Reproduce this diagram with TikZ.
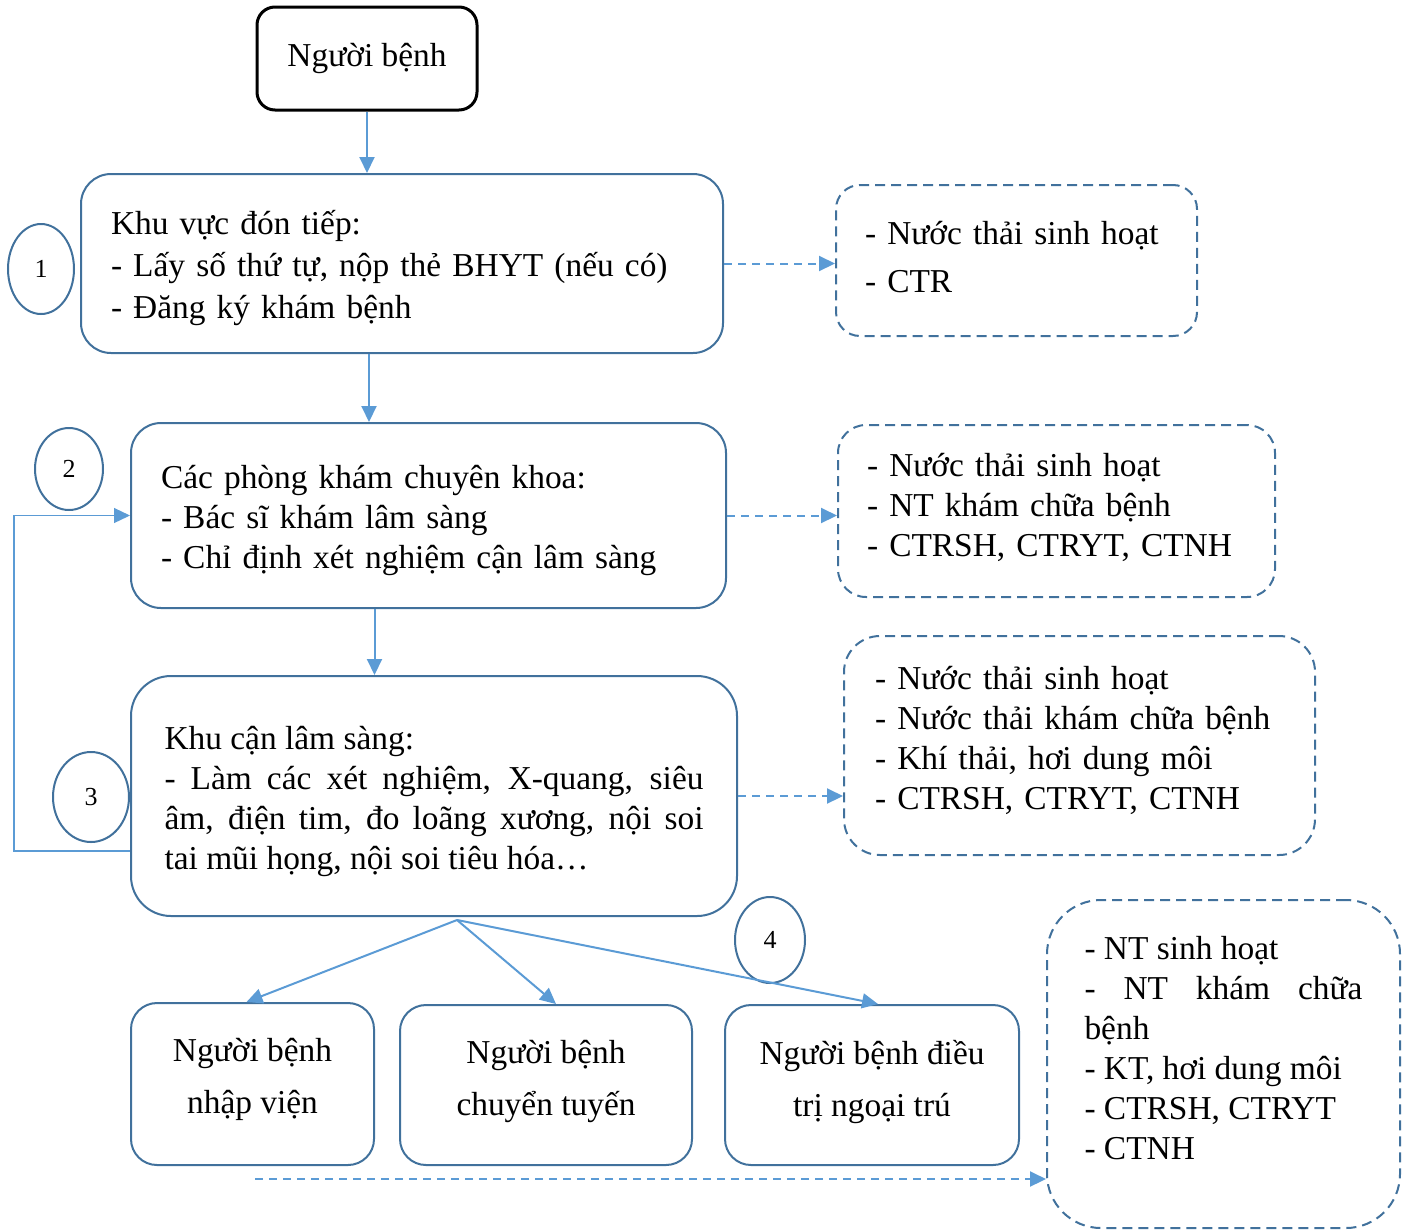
\documentclass[tikz,border=0pt]{standalone}
\usepackage{fontspec}
\setmainfont{Liberation Serif}
\usetikzlibrary{arrows.meta,shapes.geometric}
\definecolor{boxblue}{HTML}{41719C}
\definecolor{arrblue}{HTML}{5B9BD5}
\newcommand{\upstrut}[1]{\rule{0pt}{#1}}
\newcommand{\downstrut}[1]{\rule[-#1]{0pt}{#1}}

\begin{document}
\begin{tikzpicture}[x=0.5pt,y=-0.5pt,
  font=\fontsize{16.7}{21}\selectfont,
  box/.style={draw=boxblue,line width=1pt,rectangle,inner xsep=15pt,inner ysep=0pt,align=left},
  wastebox/.style={box,dash pattern=on 5pt off 3pt},
  numcirc/.style={draw=boxblue,line width=1pt,ellipse,inner sep=0pt,font=\fontsize{13}{15}\selectfont},
  arr/.style={draw=arrblue,line width=1pt,-{Triangle[length=8pt,width=7.5pt]}},
  dasharr/.style={arr,dash pattern=on 4pt off 3pt},
  fbline/.style={draw=arrblue,line width=0.6pt,-{Triangle[length=8pt,width=7.5pt]}}]

\useasboundingbox (0,0) rectangle (1411,1231);

% main column
\node[draw=black,line width=1.5pt,rounded corners=9pt,minimum width=110pt,minimum height=51.5pt] (patient) at (367,58.5) {Người bệnh};
\node[box,rounded corners=15pt,text width=291pt,minimum height=89.5pt] (reception) at (402,263.5)
  {\upstrut{17pt}Khu vực đón tiếp:\\- Lấy số thứ tự, nộp thẻ BHYT (nếu có)\\- Đăng ký khám bệnh\downstrut{4pt}};
\node[box,rounded corners=15pt,text width=267.5pt,minimum height=92.5pt,font=\fontsize{16.7}{20}\selectfont] (clinic) at (428.5,515.5)
  {\upstrut{17.1pt}Các phòng khám chuyên khoa:\\- Bác sĩ khám lâm sàng\\- Chỉ định xét nghiệm cận lâm sàng\downstrut{4pt}};
\node[box,rounded corners=20pt,inner xsep=16.75pt,text width=269.5pt,minimum height=120pt,align=justify,font=\fontsize{16.7}{20}\selectfont] (lab) at (434,796)
  {\upstrut{17.1pt}Khu cận lâm sàng:\\- Làm các xét nghiệm, X-quang, siêu\linebreak âm, điện tim, đo loãng xương, nội soi\linebreak tai mũi họng, nội soi tiêu hóa…\downstrut{4pt}};

% outcomes
\node[box,rounded corners=13pt,inner xsep=0pt,minimum width=121.5pt,minimum height=81pt,align=center,font=\fontsize{16.7}{26}\selectfont] (admit) at (252.5,1084) {Người bệnh\\nhập viện\\[-18pt]\mbox{}};
\node[box,rounded corners=13pt,inner xsep=0pt,minimum width=146pt,minimum height=80pt,align=center,font=\fontsize{16.7}{26}\selectfont] (transfer) at (546,1085) {Người bệnh\\chuyển tuyến\\[-19pt]\mbox{}};
\node[box,rounded corners=13pt,inner xsep=0pt,minimum width=147pt,minimum height=80pt,align=center,font=\fontsize{16.7}{26}\selectfont] (outpat) at (872,1085) {Người bệnh điều\\trị ngoại trú\\[-19pt]\mbox{}};

% waste boxes
\node[wastebox,rounded corners=12pt,inner xsep=14.5pt,text width=151.5pt,minimum height=75.5pt,font=\fontsize{16.7}{24}\selectfont] (waste1) at (1016.5,260.5)
  {- Nước thải sinh hoạt\\- CTR\\[-20pt]\mbox{}};
\node[wastebox,rounded corners=14pt,inner xsep=14.5pt,text width=189.5pt,minimum height=86pt,font=\fontsize{16.7}{20}\selectfont] (waste2) at (1056.5,511)
  {- Nước thải sinh hoạt\\- NT khám chữa bệnh\\- CTRSH, CTRYT, CTNH\\[-14pt]\mbox{}};
\node[wastebox,rounded corners=18pt,inner xsep=15.5pt,text width=204.5pt,minimum height=109.5pt,font=\fontsize{16.7}{20}\selectfont] (waste3) at (1079.5,745.5)
  {- Nước thải sinh hoạt\\- Nước thải khám chữa bệnh\\- Khí thải, hơi dung môi\\- CTRSH, CTRYT, CTNH\\[-12pt]\mbox{}};
\node[wastebox,rounded corners=27pt,inner xsep=18.75pt,text width=139pt,minimum height=164pt,align=justify,font=\fontsize{16.7}{20}\selectfont] (waste4) at (1223.5,1064)
  {- NT sinh hoạt\\- NT khám chữa\linebreak bệnh\\- KT, hơi dung môi\\- CTRSH, CTRYT\\- CTNH\\[-4pt]\mbox{}};

% step numbers
\node[numcirc,minimum width=33pt,minimum height=45pt] (n1) at (41,269) {1};
\node[numcirc,minimum width=34pt,minimum height=41pt] (n2) at (69,469) {2};
\node[numcirc,minimum width=38pt,minimum height=45pt] (n3) at (91,797) {3};
\node[numcirc,minimum width=35pt,minimum height=43pt] (n4) at (770,940) {4};

% flow
\coordinate (a2) at ([xshift=-16.5pt]reception.south);
\coordinate (a3) at ([xshift=-27pt]clinic.south);
\coordinate (fan) at (457,920);
\coordinate (outwaste) at (255,1179);
\draw[arr] (patient) -- (patient |- reception.north);
\draw[arr] (a2) -- (a2 |- clinic.north);
\draw[arr] (a3) -- (a3 |- lab.north);
\draw[fbline] ([yshift=-27.5pt]lab.west) -- ++(-116,0) |- (clinic.west);
\draw[arr] (fan) -- ([xshift=-3pt]admit.north);
\draw[arr] (fan) -- ([xshift=5pt]transfer.north);
\draw[arr] (fan) -- ([xshift=3pt]outpat.north);

% waste
\draw[dasharr] (reception.east) -- (reception.east -| waste1.west);
\draw[dasharr] (clinic.east) -- (clinic.east -| waste2.west);
\draw[dasharr] (lab.east) -- (lab.east -| waste3.west);
\draw[dasharr] (outwaste) -- (outwaste -| waste4.west);
\end{tikzpicture}
\end{document}
